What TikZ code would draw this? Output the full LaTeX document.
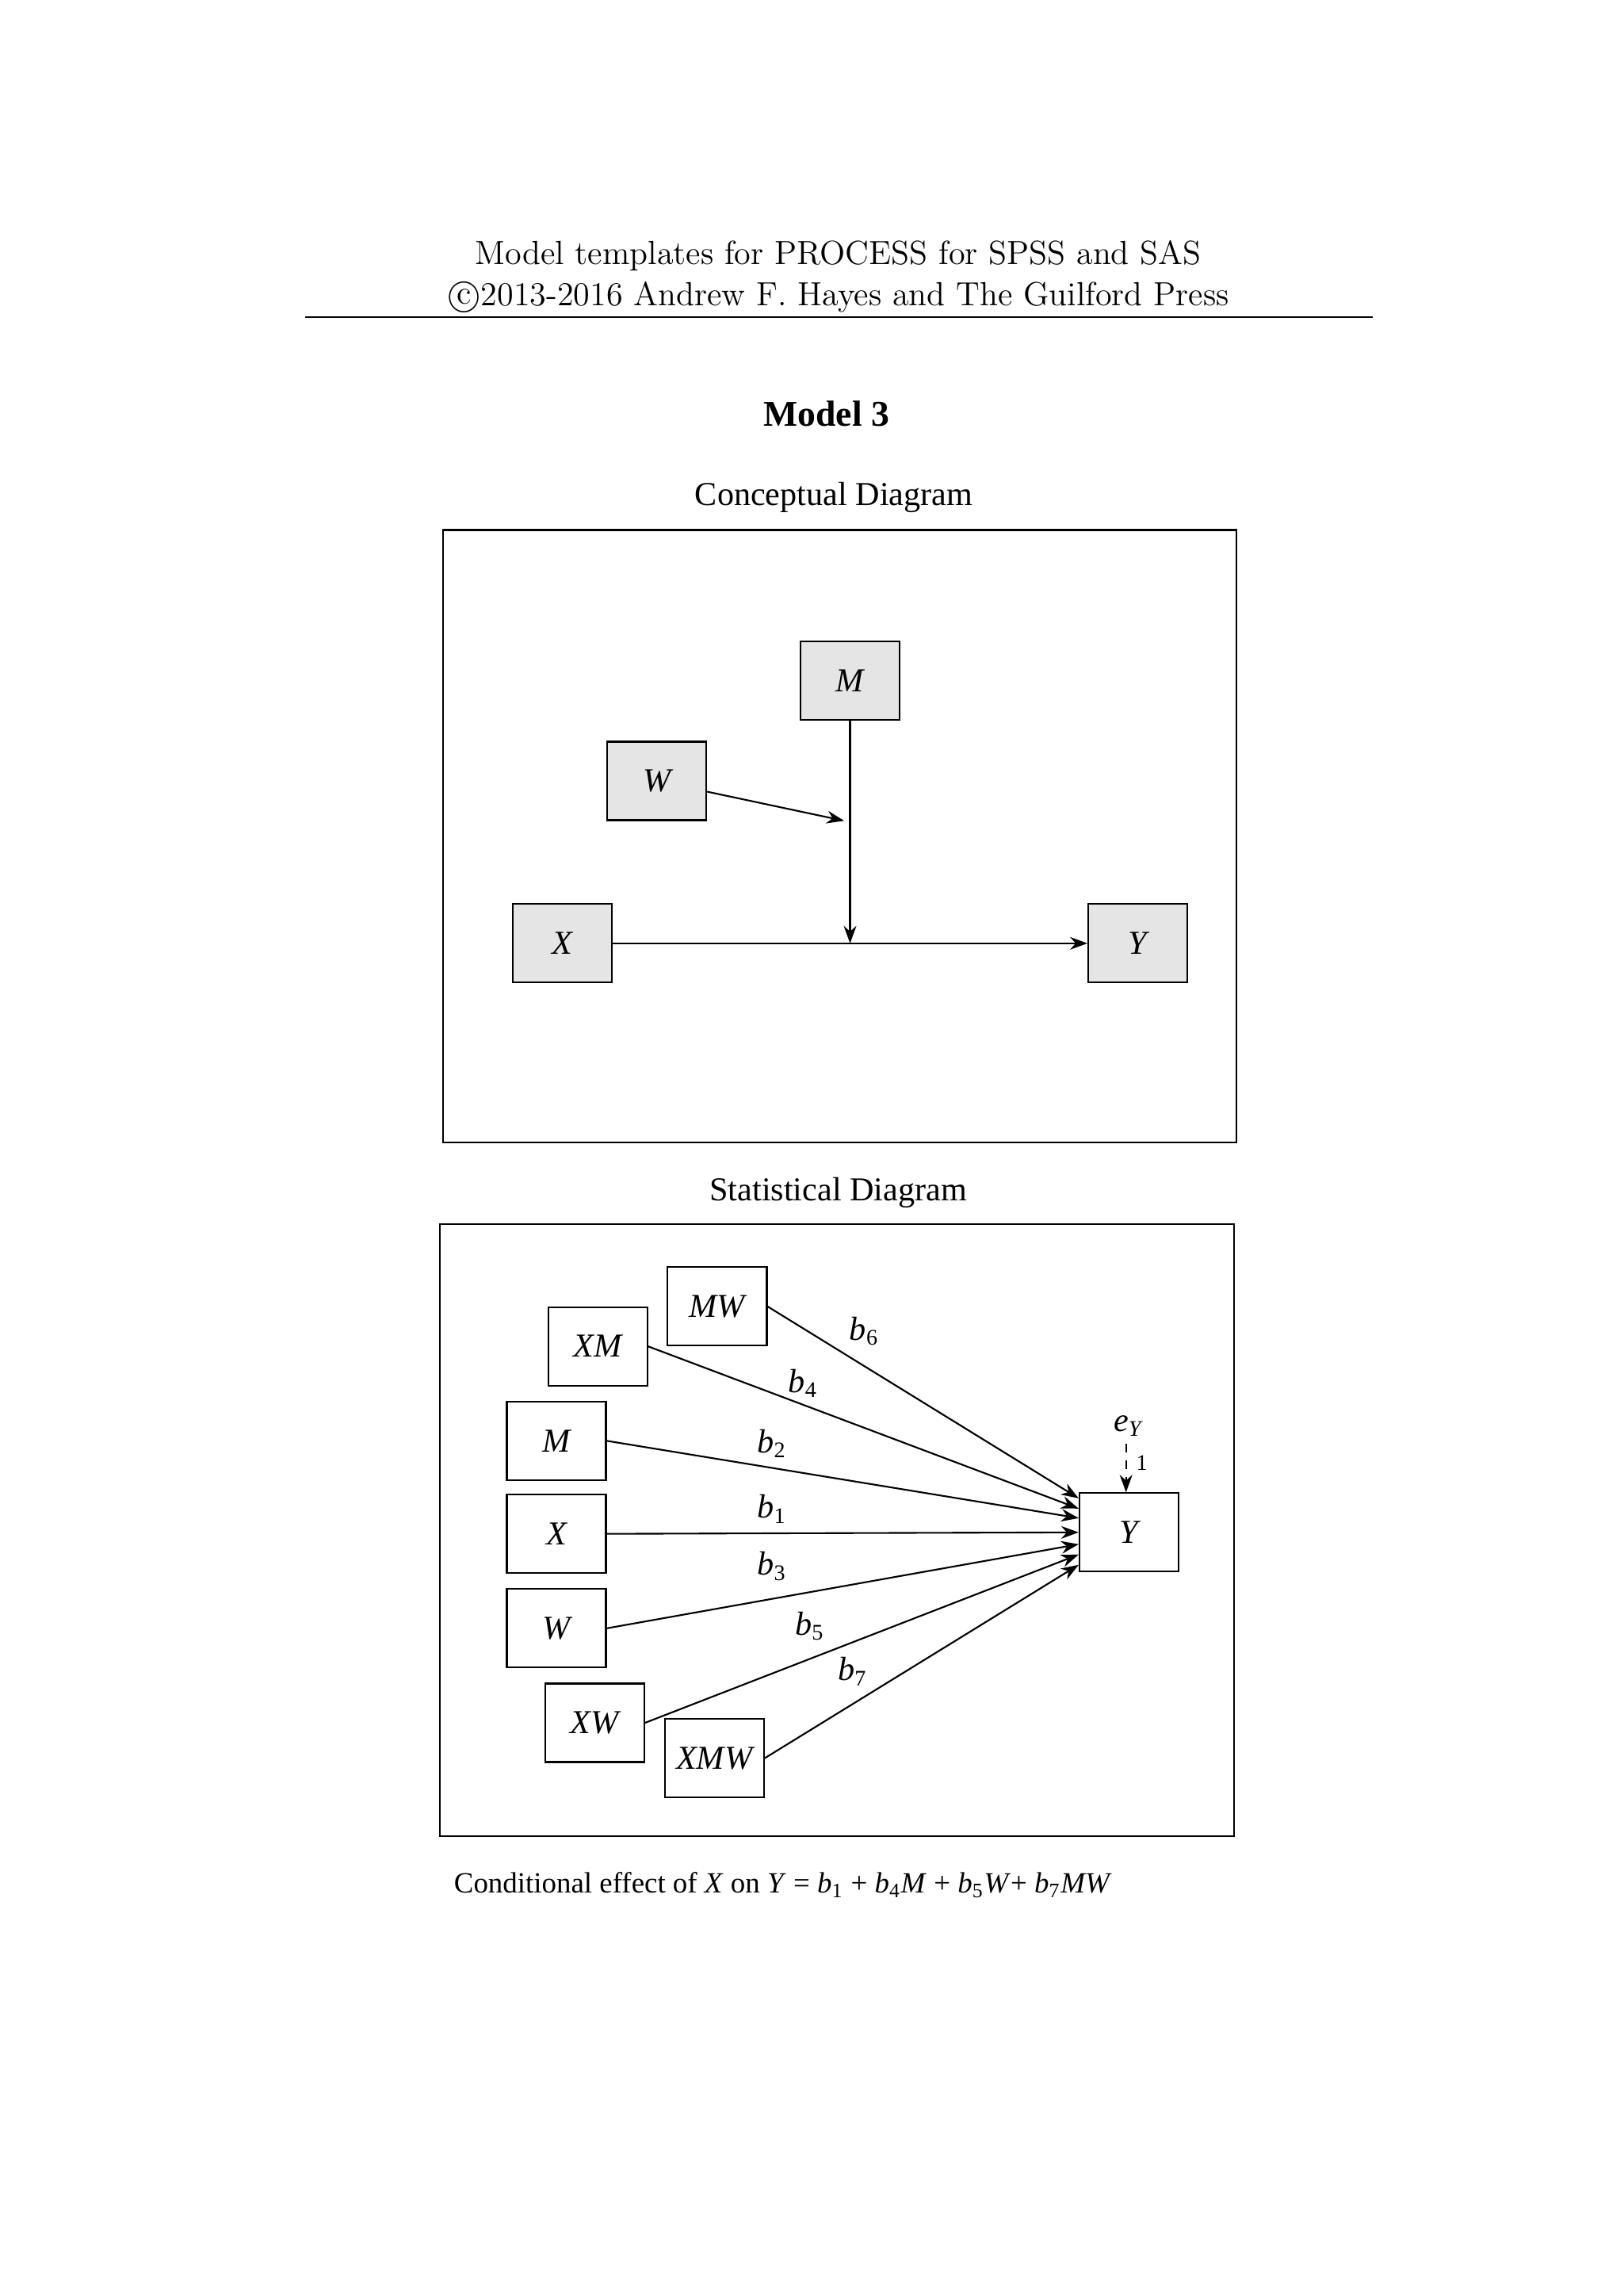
\documentclass[tikz,border=0pt]{standalone}
\usepackage{fontspec}
\setmainfont{Liberation Serif}
\newfontfamily\lmfont{Latin Modern Roman}
\usetikzlibrary{arrows.meta}

\begin{document}
\begin{tikzpicture}[x=0.01862cm, y=-0.01862cm,
    var/.style    = {draw, line width=0.6pt, minimum width=1.25cm, minimum height=0.99cm,
                     inner sep=0pt, font=\fontsize{12}{14}\selectfont\itshape},
    cvar/.style   = {var, fill=black!10},
    frame/.style  = {draw, line width=0.6pt},
    path/.style   = {line width=0.6pt, -{Stealth[length=2.2mm,width=1.6mm]}},
    coef/.style   = {font=\fontsize{12}{14}\selectfont},
  ]
  \useasboundingbox (0,0) rectangle (1100,1555.3);
  % header
  \node[font=\lmfont\fontsize{12}{14}\selectfont] (head1) at (568,173) {Model templates for PROCESS for SPSS and SAS};
  \node[font=\lmfont\fontsize{12}{14}\selectfont] (head2) at (568,201) {\textcircled{c}2013-2016 Andrew F. Hayes and The Guilford Press};
  \draw[line width=0.5pt] (207,215) -- (930,215);
  \node[font=\fontsize{13}{15}\selectfont\bfseries] (title) at (560,280) {Model 3};

  % conceptual diagram
  \node[font=\fontsize{12}{14}\selectfont] (ctitle) at (565,337) {Conceptual Diagram};
  \draw[frame] (300,359) rectangle (838,774);
  \node[cvar] (cM) at (576,461) {M};
  \node[cvar] (cW) at (445,529) {W};
  \node[cvar] (cX) at (381,639) {X};
  \node[cvar] (cY) at (771,639) {Y};
  \coordinate (mid) at (576,639);
  \coordinate (mod) at (572,556);
  \draw[path] (cX) -- (cY);
  \draw[path] (cM) -- (mid);
  \draw[path] (cW) -- (mod);

  % statistical diagram
  \node[font=\fontsize{12}{14}\selectfont] (stitle) at (568,808) {Statistical Diagram};
  \draw[frame] (298,829) rectangle (836,1244);
  \node[var] (MW)  at (486,885)  {MW};
  \node[var] (XM)  at (405,912)  {XM};
  \node[var] (M)   at (377,976)  {M};
  \node[var] (X)   at (377,1039) {X};
  \node[var] (W)   at (377,1103) {W};
  \node[var] (XW)  at (403,1167) {XW};
  \node[var] (XMW) at (484,1191) {XMW};
  \node[var] (Y)   at (765,1038) {Y};
  \draw[path] (MW.east)  -- ([yshift=0.43cm]Y.west)  node[coef, pos=0.24, above right=-1pt] {\textit{b}\textsubscript{6}};
  \draw[path] (XM.east)  -- ([yshift=0.30cm]Y.west)  node[coef, pos=0.36, above=-1pt] {\textit{b}\textsubscript{4}};
  \draw[path] (M.east)   -- ([yshift=0.18cm]Y.west)  node[coef, pos=0.35, above=0pt] {\textit{b}\textsubscript{2}};
  \draw[path] (X.east)   -- (Y.west)                 node[coef, pos=0.35, above] {\textit{b}\textsubscript{1}};
  \draw[path] (W.east)   -- ([yshift=-0.15cm]Y.west) node[coef, pos=0.35, above=3pt] {\textit{b}\textsubscript{3}};
  \draw[path] (XW.east)  -- ([yshift=-0.28cm]Y.west) node[coef, pos=0.38, above=3pt] {\textit{b}\textsubscript{5}};
  \draw[path] (XMW.east) -- ([yshift=-0.41cm]Y.west) node[coef, pos=0.28, above=3pt] {\textit{b}\textsubscript{7}};
  \node[coef] (eY) at (765,966) {\textit{e}\textsubscript{\textit{Y}}};
  \coordinate (eYbot) at (763,978);
  \draw[path, dashed] (eYbot) -- (Y.north -| eYbot) node[pos=0.4, right, font=\fontsize{8}{9}\selectfont] {1};

  % caption
  \node[anchor=west, font=\fontsize{10.5}{13}\selectfont] (cap) at (301,1277)
    {Conditional effect of \textit{X} on \textit{Y} = \textit{b}\textsubscript{1} + \textit{b}\textsubscript{4}\textit{M} + \textit{b}\textsubscript{5}\textit{W}+ \textit{b}\textsubscript{7}\textit{MW}};
\end{tikzpicture}
\end{document}
